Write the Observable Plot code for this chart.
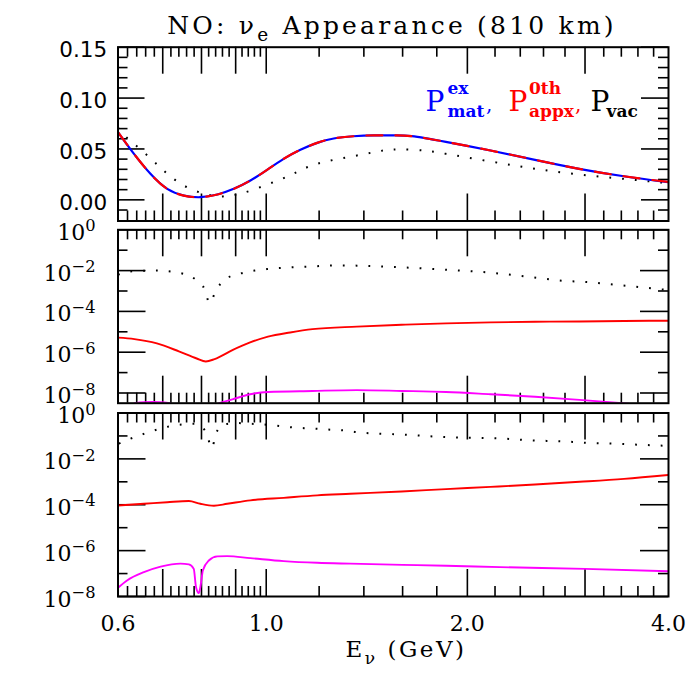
<!DOCTYPE html>
<html><head><meta charset="utf-8">
<script src="https://cdn.jsdelivr.net/npm/d3@7"></script>
<script src="https://cdn.jsdelivr.net/npm/@observablehq/plot@0.6"></script>
<style>
body{margin:0;background:#fff;}
#chart{position:relative;width:696px;height:687px;overflow:hidden;background:#fff;}
#chart svg{position:absolute;left:0;}
</style></head><body><div id="chart"></div>
<script>
// ---------- data ----------
// Panel 1 (linear): P_mat (exact), P_appx (0th order), P_vac
const matE  = [0.6, 0.634, 0.671, 0.711, 0.753, 0.797, 0.845, 0.894, 0.947, 1.003, 1.062, 1.125, 1.192, 1.262, 1.35, 1.45, 1.55, 1.65, 1.857, 2.166, 2.525, 2.94, 3.43, 4.0];
const matP  = [0.0665, 0.0452, 0.0256, 0.0108, 0.0042, 0.0026, 0.0052, 0.0108, 0.019, 0.0295, 0.0403, 0.0492, 0.0560, 0.0603, 0.0625, 0.0634, 0.0634, 0.0626, 0.0570, 0.0485, 0.0393, 0.0305, 0.0232, 0.0173];
const appxE = [0.6, 0.634, 0.671, 0.711, 0.753, 0.797, 0.845, 0.894, 0.947, 1.003, 1.062, 1.125, 1.192, 1.262, 1.35, 1.45, 1.55, 1.65, 1.857, 2.166, 2.525, 2.94, 3.43, 4.0];
const appxP = [0.0665, 0.0452, 0.0256, 0.0108, 0.0042, 0.0026, 0.0052, 0.0108, 0.019, 0.0295, 0.0403, 0.0492, 0.0560, 0.0603, 0.0625, 0.0634, 0.0634, 0.0626, 0.0570, 0.0485, 0.0393, 0.0305, 0.0232, 0.0175];
const vacE  = [0.6, 0.616, 0.664, 0.711, 0.770, 0.840, 0.874, 0.920, 1.003, 1.093, 1.192, 1.367, 1.499, 1.594, 1.721, 1.857, 2.166, 2.525, 2.94, 3.43, 4.0];
const vacP  = [0.071, 0.0622, 0.0436, 0.0256, 0.0108, 0.0035, 0.0042, 0.0065, 0.015, 0.0249, 0.0354, 0.0436, 0.0485, 0.0495, 0.0485, 0.0452, 0.0377, 0.0305, 0.0249, 0.0206, 0.0163];

// Panel 2 (log)
const dot2E = [0.6, 0.63, 0.687, 0.753, 0.785, 0.81, 0.822, 0.843, 0.87, 0.918, 0.961, 1.006, 1.086, 1.173, 1.266, 1.367, 1.594, 1.858, 2.166, 2.507, 2.77, 3.05, 3.34, 3.66, 4.0];
const dot2P = [6.3e-3, 9.3e-3, 1.0e-2, 6.9e-3, 3.5e-3, 1.1e-3, 2.6e-4, 1.26e-3, 3.9e-3, 7.4e-3, 1.0e-2, 1.2e-2, 1.45e-2, 1.6e-2, 1.8e-2, 1.75e-2, 1.45e-2, 1.1e-2, 7.9e-3, 4.7e-3, 3.2e-3, 2.7e-3, 2.0e-3, 1.5e-3, 1.1e-3];
const red2E = [0.6, 0.635, 0.686, 0.740, 0.787, 0.812, 0.837, 0.890, 0.946, 1.006, 1.086, 1.173, 1.367, 1.594, 1.858, 2.166, 2.525, 2.944, 3.432, 4.0];
const red2P = [5.2e-6, 4.4e-6, 2.7e-6, 1.1e-6, 4.9e-7, 3.5e-7, 4.6e-7, 1.26e-6, 3.0e-6, 5.8e-6, 9.3e-6, 1.35e-5, 1.8e-5, 2.2e-5, 2.6e-5, 2.9e-5, 3.1e-5, 3.2e-5, 3.4e-5, 3.5e-5];
const mag2E = [0.635, 0.675, 0.718, 0.78, 0.85, 0.890, 0.946, 1.006, 1.173, 1.367, 1.594, 1.858, 2.166, 2.525, 2.944, 3.49, 3.8];
const mag2P = [3.2e-9, 3.6e-9, 3.2e-9, null, 3.2e-9, 4.9e-9, 8.7e-9, 1.12e-8, 1.26e-8, 1.38e-8, 1.26e-8, 1.12e-8, 8.7e-9, 6.6e-9, 4.6e-9, 3.0e-9, null];

// Panel 3 (log)
const dot3E = [0.6017, 0.6264, 0.6558, 0.6851, 0.7148, 0.7486, 0.7834, 0.8111, 0.830, 0.8396, 0.864, 0.905, 0.947, 0.9916, 1.039, 1.087, 1.139, 1.192, 1.248, 1.306, 1.367, 1.594, 1.858, 2.281, 2.507, 2.75, 3.017, 3.31, 3.632, 4.0];
const dot3P = [0.046, 0.076, 0.123, 0.186, 0.257, 0.316, 0.339, 0.162, 0.030, 0.115, 0.316, 0.363, 0.339, 0.316, 0.275, 0.240, 0.219, 0.204, 0.186, 0.174, 0.145, 0.115, 0.089, 0.076, 0.063, 0.059, 0.050, 0.046, 0.041, 0.037];
const red3E = [0.6, 0.656, 0.711, 0.766, 0.797, 0.835, 0.874, 0.947, 1.062, 1.192, 1.336, 1.594, 1.858, 2.166, 2.525, 2.944, 3.432, 4.0];
const red3P = [9.3e-5, 1.1e-4, 1.29e-4, 1.45e-4, 1.1e-4, 9.1e-5, 1.1e-4, 1.55e-4, 2.0e-4, 2.57e-4, 3.0e-4, 3.8e-4, 4.8e-4, 6.0e-4, 7.6e-4, 1.0e-3, 1.35e-3, 2.0e-3];
const mag3E = [0.6, 0.619, 0.656, 0.695, 0.744, 0.766, 0.779, 0.785, 0.7926, 0.797, 0.804, 0.8205, 0.845, 0.874, 0.947, 1.062, 1.192, 1.336, 1.6, 1.86, 2.24, 3.0, 4.0];
const mag3P = [2.4e-8, 5.0e-8, 1.15e-7, 2.0e-7, 2.7e-7, 2.5e-7, 1.6e-7, 2.6e-8, 1.4e-8, 2.6e-8, 1.4e-7, 3.7e-7, 5.6e-7, 5.75e-7, 4.7e-7, 3.5e-7, 2.95e-7, 2.7e-7, 2.4e-7, 2.2e-7, 1.9e-7, 1.6e-7, 1.25e-7];

// Ticks and tick labels
const xMajor = [0.7, 0.8, 0.9, 1, 2, 3];
const xMinor = [0.62, 0.64, 0.66, 0.68, 0.72, 0.74, 0.76, 0.78, 0.82, 0.84, 0.86, 0.88, 0.92, 0.94, 0.96, 0.98,
                1.2, 1.4, 1.6, 1.8, 2.2, 2.4, 2.6, 2.8, 3.2, 3.4, 3.6, 3.8];
const xLabelValues = [0.6, 1, 2, 4];
const xLabelText = ["0.6", "1.0", "2.0", "4.0"];
const lin1Major = [0, 0.05, 0.10, 0.15];
const lin1Minor = [-0.01, 0.01, 0.02, 0.03, 0.04, 0.06, 0.07, 0.08, 0.09, 0.11, 0.12, 0.13, 0.14];
const lin1Labels = ["0.00", "0.05", "0.10", "0.15"];
const logMajor = [1, 1e-2, 1e-4, 1e-6, 1e-8];
const logMinor = [1e-1, 1e-3, 1e-5, 1e-7];
const logLabels = ["10^{0}", "10^{\u22122}", "10^{\u22124}", "10^{\u22126}", "10^{\u22128}"];

const titleText = "NO: \u03bd_{e} Appearance (810 km)";
const xTitle = "E_{\u03bd} (GeV)";

// ---------- layout ----------
const W = 696, FL = 117.5, FR = 668, MR = W - FR;
const SERIF = "DejaVu Serif";
const K = "black";

function frameTicks(innerW, innerH, yMaj, yMin, yLen) {
  const s = {stroke: K, strokeWidth: 1.6};
  const xL = 27, mL = 10, ymL = 10;
  return [
    Plot.tickX(xMajor, {x: d => d, insetTop: innerH - xL, ...s}),
    Plot.tickX(xMajor, {x: d => d, insetBottom: innerH - xL, ...s}),
    Plot.tickX(xMinor, {x: d => d, insetTop: innerH - mL, ...s}),
    Plot.tickX(xMinor, {x: d => d, insetBottom: innerH - mL, ...s}),
    Plot.tickY(yMaj, {y: d => d, insetRight: innerW - yLen, ...s}),
    Plot.tickY(yMaj, {y: d => d, insetLeft: innerW - yLen, ...s}),
    Plot.tickY(yMin, {y: d => d, insetRight: innerW - ymL, ...s}),
    Plot.tickY(yMin, {y: d => d, insetLeft: innerW - ymL, ...s})
  ];
}
const dotted = {stroke: K, strokeWidth: 2, strokeDasharray: "1.8,11", strokeLinecap: "butt"};
const style = {background: "transparent", overflow: "visible", fontFamily: SERIF, fontSize: "22px", color: K};

// Panel 1
const h1 = 230, mt1 = 46.7, mb1 = 9.5;
const p1 = Plot.plot({
  width: W, height: h1, marginLeft: FL, marginRight: MR, marginTop: mt1, marginBottom: mb1,
  x: {type: "log", domain: [0.6, 4], axis: null},
  y: {domain: [-0.0208, 0.15], axis: null},
  style,
  marks: [
    ...frameTicks(W - FL - MR, h1 - mt1 - mb1, lin1Major, lin1Minor, 27),
    Plot.line(vacP, {x: vacE, y: vacP, curve: "natural", clip: true, ...dotted}),
    Plot.line(matP, {x: matE, y: matP, curve: "natural", stroke: "#0000ff", strokeWidth: 2.2, clip: true}),
    Plot.line(appxP, {x: appxE, y: appxP, curve: "natural", stroke: "#ff0000", strokeWidth: 2.2, strokeDasharray: "16,13", clip: true}),
    Plot.text(lin1Major, {y: d => d, text: (d, i) => lin1Labels[i], frameAnchor: "left", dx: -10.8, dy: 10,
      textAnchor: "end", lineAnchor: "bottom", fontFamily: "DejaVu Sans", fontSize: 21.5}),
    Plot.text([titleText], {text: d => d, frameAnchor: "top-left", dx: 49.2, dy: -13.4, textAnchor: "start", lineAnchor: "bottom", fontSize: 25}),
    // legend
    Plot.text(["P"], {text: d => d, frameAnchor: "top-left", dx: 307.5, dy: 63.3, textAnchor: "start", lineAnchor: "bottom", fontSize: 28, fill: "#0000ff"}),
    Plot.text(["ex"], {text: d => d, frameAnchor: "top-left", dx: 329.5, dy: 46.6, textAnchor: "start", lineAnchor: "bottom", fontSize: 17, fontWeight: "bold", fill: "#0000ff"}),
    Plot.text(["mat"], {text: d => d, frameAnchor: "top-left", dx: 329.5, dy: 70, textAnchor: "start", lineAnchor: "bottom", fontSize: 17, fontWeight: "bold", fill: "#0000ff"}),
    Plot.text([","], {text: d => d, frameAnchor: "top-left", dx: 368, dy: 63.3, textAnchor: "start", lineAnchor: "bottom", fontSize: 20, fill: "#0000ff"}),
    Plot.text(["P"], {text: d => d, frameAnchor: "top-left", dx: 390.5, dy: 63.3, textAnchor: "start", lineAnchor: "bottom", fontSize: 28, fill: "#ff0000"}),
    Plot.text(["0th"], {text: d => d, frameAnchor: "top-left", dx: 411, dy: 46.6, textAnchor: "start", lineAnchor: "bottom", fontSize: 17, fontWeight: "bold", fill: "#ff0000"}),
    Plot.text(["appx"], {text: d => d, frameAnchor: "top-left", dx: 411, dy: 70, textAnchor: "start", lineAnchor: "bottom", fontSize: 17, fontWeight: "bold", fill: "#ff0000"}),
    Plot.text([","], {text: d => d, frameAnchor: "top-left", dx: 457, dy: 63.3, textAnchor: "start", lineAnchor: "bottom", fontSize: 20, fill: "#ff0000"}),
    Plot.text(["P"], {text: d => d, frameAnchor: "top-left", dx: 472.5, dy: 63.3, textAnchor: "start", lineAnchor: "bottom", fontSize: 28, fill: K}),
    Plot.text(["vac"], {text: d => d, frameAnchor: "top-left", dx: 488.5, dy: 70, textAnchor: "start", lineAnchor: "bottom", fontSize: 17, fontWeight: "bold", fill: K}),
    Plot.frame({stroke: K, strokeWidth: 2})
  ]
});

// Panel 2
const h2 = 210, mt2 = 29.3, mb2 = 7.3;
const p2 = Plot.plot({
  width: W, height: h2, marginLeft: FL, marginRight: MR, marginTop: mt2, marginBottom: mb2,
  x: {type: "log", domain: [0.6, 4], axis: null},
  y: {type: "log", domain: [Math.pow(10, -8.5), 1], axis: null},
  style,
  marks: [
    ...frameTicks(W - FL - MR, h2 - mt2 - mb2, logMajor, logMinor, 28),
    Plot.line(dot2P, {x: dot2E, y: dot2P, curve: "monotone-x", clip: true, ...dotted}),
    Plot.line(red2P, {x: red2E, y: red2P, curve: "monotone-x", stroke: "#ff0000", strokeWidth: 1.9, clip: true}),
    Plot.line(mag2P, {x: mag2E, y: mag2P, curve: "monotone-x", stroke: "#ff00ff", strokeWidth: 1.9, clip: true}),
    Plot.text(logMajor, {y: d => d, text: (d, i) => logLabels[i], frameAnchor: "left", dx: -22.5, dy: 10,
      textAnchor: "end", lineAnchor: "bottom", fontSize: 22}),
    Plot.frame({stroke: K, strokeWidth: 2})
  ]
});

// Panel 3
const h3 = 297, mt3 = 22.5, mb3 = 91;
const p3 = Plot.plot({
  width: W, height: h3, marginLeft: FL, marginRight: MR, marginTop: mt3, marginBottom: mb3,
  x: {type: "log", domain: [0.6, 4], axis: null},
  y: {type: "log", domain: [1e-8, 1], axis: null},
  style,
  marks: [
    ...frameTicks(W - FL - MR, h3 - mt3 - mb3, logMajor, logMinor, 28),
    Plot.line(dot3P, {x: dot3E, y: dot3P, curve: "monotone-x", clip: true, ...dotted}),
    Plot.line(red3P, {x: red3E, y: red3P, curve: "monotone-x", stroke: "#ff0000", strokeWidth: 1.9, clip: true}),
    Plot.line(mag3P, {x: mag3E, y: mag3P, curve: "monotone-x", stroke: "#ff00ff", strokeWidth: 1.9, clip: true}),
    Plot.text(logMajor, {y: d => d, text: (d, i) => logLabels[i], frameAnchor: "left", dx: -22.5, dy: 10,
      textAnchor: "end", lineAnchor: "bottom", fontSize: 22}),
    Plot.text(xLabelValues, {x: d => d, text: (d, i) => xLabelText[i], frameAnchor: "bottom", dy: 34,
      textAnchor: "middle", lineAnchor: "bottom", fontSize: 22}),
    Plot.text([xTitle], {text: d => d, frameAnchor: "bottom-left", dx: 227.5, dy: 60.7, textAnchor: "start", lineAnchor: "bottom", fontSize: 23}),
    Plot.frame({stroke: K, strokeWidth: 2})
  ]
});

const chart = document.getElementById("chart");
[[p1, 0], [p2, 200], [p3, 390]].forEach(([svg, top]) => {
  svg.style.top = top + "px";
  chart.appendChild(svg);
});

// rich text: ^{..} superscript, _{..} subscript
function rich(svg) {
  d3.select(svg).selectAll("text").each(function () {
    const s = this.textContent;
    if (!/[\^_]\{/.test(s)) return;
    const fs = parseFloat(getComputedStyle(this).fontSize);
    const parts = s.split(/([\^_]\{[^}]*\})/).filter(p => p !== "");
    this.textContent = "";
    let shift = 0;
    for (const p of parts) {
      const t = document.createElementNS("http://www.w3.org/2000/svg", "tspan");
      let target = 0, txt = p, small = false;
      if (p.startsWith("^{")) { target = -0.38 * fs; txt = p.slice(2, -1); small = true; }
      else if (p.startsWith("_{")) { target = 0.3 * fs; txt = p.slice(2, -1); small = true; }
      t.setAttribute("dy", (target - shift).toFixed(2));
      shift = target;
      if (small) t.setAttribute("font-size", (0.74 * fs).toFixed(1));
      t.textContent = txt;
      this.appendChild(t);
    }
    if (s.startsWith("NO:")) this.setAttribute("letter-spacing", "3.2");
    if (s.startsWith("E_")) this.setAttribute("letter-spacing", "2.5");
  });
}
[p1, p2, p3].forEach(rich);
</script></body></html>
